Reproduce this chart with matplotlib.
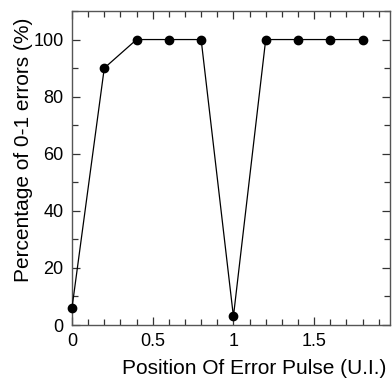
import matplotlib
matplotlib.use("Agg")
import matplotlib.pyplot as plt
from matplotlib.ticker import MultipleLocator

plt.rcParams['font.family'] = ['Liberation Sans', 'DejaVu Sans']

# data
position = [0.0, 0.2, 0.4, 0.6, 0.8, 1.0, 1.2, 1.4, 1.6, 1.8]
percent = [6, 90, 100, 100, 100, 3, 100, 100, 100, 100]

fig = plt.figure(figsize=(3.92, 3.79), dpi=100)
ax = fig.add_axes([72 / 392, 1 - 325 / 379, 318 / 392, 314 / 379])

ax.plot(position, percent, color='black', lw=0.9, marker='o', ms=6,
        markerfacecolor='black', markeredgecolor='black', clip_on=False, zorder=3)

ax.set_xlim(0, 1.97)
ax.set_ylim(0, 110)
ax.xaxis.set_major_locator(MultipleLocator(0.5))
ax.xaxis.set_minor_locator(MultipleLocator(0.1))
ax.yaxis.set_major_locator(MultipleLocator(20))
ax.yaxis.set_minor_locator(MultipleLocator(10))
ax.set_xticks([0, 0.5, 1, 1.5])
ax.set_xticklabels(['0', '0.5', '1', '1.5'])

ax.tick_params(which='both', direction='in', top=True, right=True,
               labelsize=13, width=0.9, color='#333333', pad=6)
ax.tick_params(which='major', length=6)
ax.tick_params(which='minor', length=4)
for s in ax.spines.values():
    s.set_color('#555555')
    s.set_linewidth(1.0)

ax.set_xlabel('Position Of Error Pulse (U.I.)', fontsize=15, labelpad=6)
ax.set_ylabel('Percentage of 0-1 errors (%)', fontsize=15, labelpad=0)
# labels in the original sit off-centre
ax.xaxis.label.set_x(0.574)
ax.yaxis.label.set_y(0.557)

fig.savefig('out.png', dpi=100)
